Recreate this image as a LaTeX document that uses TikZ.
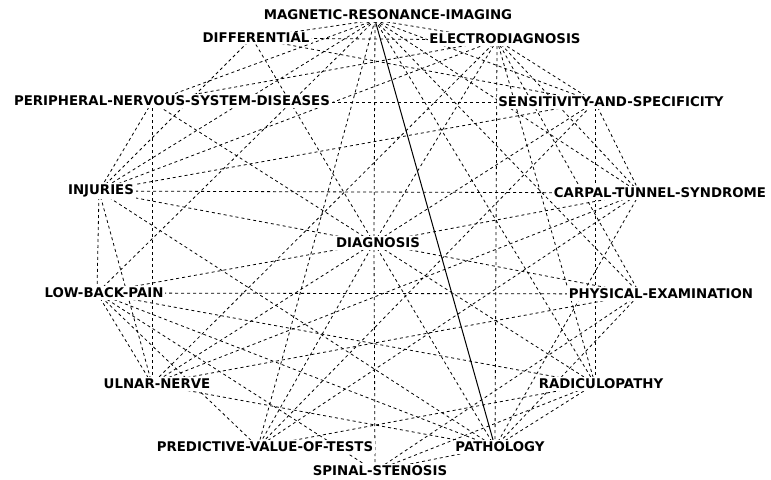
\documentclass[tikz,border=0pt]{standalone}
\usepackage{fontspec}
\setmainfont{DejaVu Sans}
\begin{document}
\begin{tikzpicture}[x=0.75pt,y=-0.75pt,
  term/.style={fill=white,inner sep=1.2pt,font=\fontsize{10}{12}\selectfont\bfseries},
  tie/.style={draw=black,line width=0.6pt,dash pattern=on 2.25pt off 2.25pt},
  strongtie/.style={draw=black,line width=0.75pt}]
\useasboundingbox (0,0) rectangle (771,479);
% anchor points of the terms
\coordinate (mri) at (375,20);
\coordinate (dif) at (252,38);
\coordinate (ele) at (497,40);
\coordinate (pns) at (152,102);
\coordinate (sas) at (595,102);
\coordinate (inj) at (99,191);
\coordinate (cts) at (640,193);
\coordinate (dia) at (374,243);
\coordinate (lbp) at (97,293);
\coordinate (pe)  at (640,294);
\coordinate (uln) at (152,384);
\coordinate (rad) at (595,384);
\coordinate (pvt) at (258,447);
\coordinate (pat) at (495,447);
\coordinate (sps) at (375,471);
% links of the central term
\foreach \t in {mri,dif,ele,pns,sas,inj,cts,lbp,pe,uln,rad,pvt,pat,sps}
  \draw[tie] (dia) -- (\t);
% links among the outer terms
\foreach \a/\b in {mri/dif,mri/ele,mri/pns,mri/inj,mri/lbp,mri/pvt,mri/cts,mri/sas,mri/rad,mri/pe,
  ele/dif,ele/pns,ele/inj,ele/uln,ele/sas,ele/cts,ele/pe,ele/rad,ele/pat,
  dif/inj,dif/sas,
  pns/sas,pns/uln,pns/inj,
  sas/inj,sas/cts,sas/rad,sas/pvt,
  inj/cts,inj/pat,inj/lbp,inj/uln,
  lbp/pe,lbp/rad,lbp/pat,lbp/sps,lbp/pvt,lbp/uln,
  uln/cts,uln/pat,uln/pe,
  pvt/cts,pvt/rad,
  pat/cts,pat/pe,pat/rad,
  sps/pat,sps/rad,sps/pe}
  \draw[tie] (\a) -- (\b);
\draw[strongtie] (mri) -- (pat);
% term labels
\node[term] (mri-l) at (388,15) {MAGNETIC-RESONANCE-IMAGING};
\node[term] (dif-l) at (256,38) {DIFFERENTIAL};
\node[term] (ele-l) at (505,39) {ELECTRODIAGNOSIS};
\node[term] (pns-l) at (172,101) {PERIPHERAL-NERVOUS-SYSTEM-DISEASES};
\node[term] (sas-l) at (611,102) {SENSITIVITY-AND-SPECIFICITY};
\node[term] (inj-l) at (101,191) {INJURIES};
\node[term] (cts-l) at (660,193) {CARPAL-TUNNEL-SYNDROME};
\node[term] (dia-l) at (378,243) {DIAGNOSIS};
\node[term] (lbp-l) at (104,293) {LOW-BACK-PAIN};
\node[term] (pe-l)  at (661,294) {PHYSICAL-EXAMINATION};
\node[term] (uln-l) at (157,384) {ULNAR-NERVE};
\node[term] (rad-l) at (601,384) {RADICULOPATHY};
\node[term] (pvt-l) at (265,447) {PREDICTIVE-VALUE-OF-TESTS};
\node[term] (pat-l) at (500,447) {PATHOLOGY};
\node[term] (sps-l) at (380,471) {SPINAL-STENOSIS};
\end{tikzpicture}
\end{document}
